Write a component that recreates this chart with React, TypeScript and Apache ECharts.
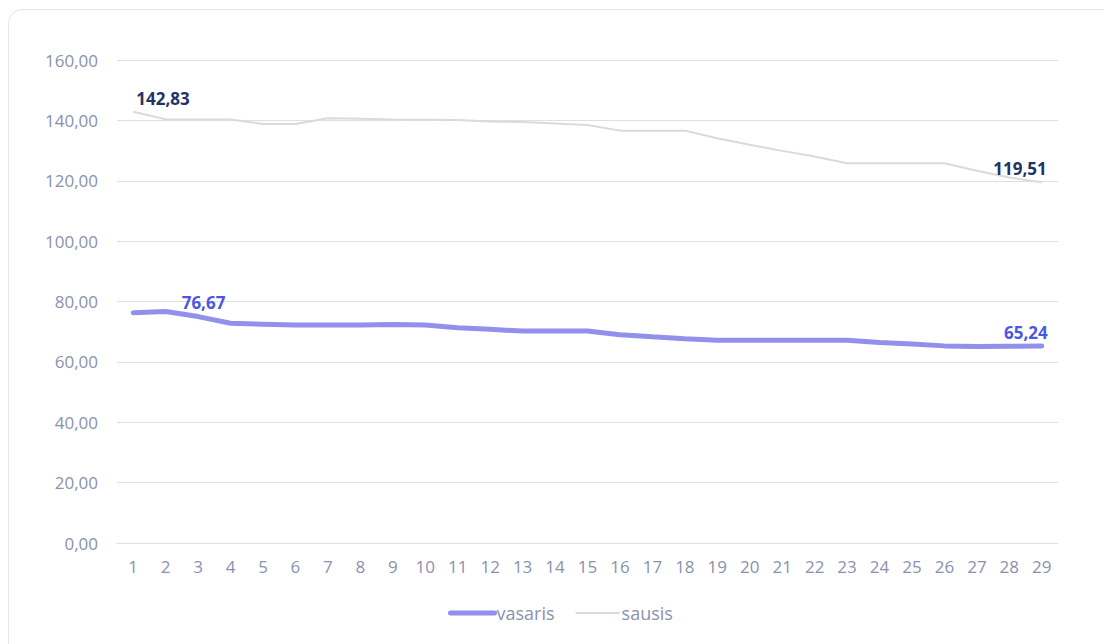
import React, { useEffect, useRef } from "react";
import * as echarts from "echarts";

const days = ["1","2","3","4","5","6","7","8","9","10","11","12","13","14","15","16","17","18","19","20","21","22","23","24","25","26","27","28","29"];
const vasaris = [76.3, 76.67, 75.0, 72.8, 72.5, 72.2, 72.2, 72.2, 72.4, 72.2, 71.3, 70.8, 70.2, 70.2, 70.2, 69.0, 68.3, 67.7, 67.2, 67.2, 67.2, 67.2, 67.2, 66.4, 65.9, 65.3, 65.1, 65.2, 65.24];
const sausis = [142.83, 140.4, 140.3, 140.3, 138.8, 138.8, 140.7, 140.5, 140.3, 140.2, 140.1, 139.6, 139.5, 139.0, 138.5, 136.6, 136.6, 136.6, 134.1, 131.9, 129.9, 128.0, 125.8, 125.8, 125.8, 125.8, 123.3, 121.1, 119.51];
const yTicks = { min: 0, max: 160, interval: 20 };

const fmt = (v: number) => v.toFixed(2).replace(".", ",");

export default function App() {
  const ref = useRef<HTMLDivElement>(null);
  useEffect(() => {
    if (!ref.current) return;
    const chart = echarts.init(ref.current, undefined, { renderer: "svg" });
    const font = "'Open Sans', 'Noto Sans', sans-serif";
    const labelBase = { show: true, position: "top", fontFamily: font, fontSize: 17, fontWeight: "bold", formatter: (p: any) => fmt(p.value) };
    const mark = { symbol: "circle", symbolSize: 0 };
    const vData = vasaris.map((v, i) => {
      if (i === 1) return { value: v, ...mark, label: { ...labelBase, color: "#4a57e3", align: "left", offset: [16, 4] } };
      if (i === vasaris.length - 1) return { value: v, ...mark, label: { ...labelBase, color: "#4a57e3", align: "right", offset: [6, 0] } };
      return { value: v };
    });
    const sData = sausis.map((v, i) => {
      if (i === 0) return { value: v, ...mark, label: { ...labelBase, color: "#1f3366", align: "left", offset: [3, 0] } };
      if (i === sausis.length - 1) return { value: v, ...mark, label: { ...labelBase, color: "#1f3366", align: "right", offset: [5, 0] } };
      return { value: v };
    });
    chart.setOption({
      animation: false,
      textStyle: { fontFamily: font },
      grid: { left: 117, right: 46, top: 60, bottom: 101, containLabel: false },
      legend: {
        top: 599,
        left: 443,
        itemWidth: 44,
        itemHeight: 20,
        itemGap: 20,
        itemStyle: { opacity: 0 },
        textStyle: { color: "#8a92ab", fontSize: 18, fontFamily: font, padding: [0, 0, 0, -3] },
        data: [
          { name: "vasaris", lineStyle: { width: 5, cap: "round", color: "#9191ec" } },
          { name: "sausis", lineStyle: { width: 2, color: "#dadada" } },
        ],
      },
      xAxis: {
        type: "category",
        data: days,
        boundaryGap: true,
        axisLine: { show: true, lineStyle: { color: "#e0e0e0" } },
        axisTick: { show: false },
        axisLabel: { color: "#8a92ab", fontSize: 17, margin: 15, fontFamily: font },
      },
      yAxis: {
        type: "value",
        min: yTicks.min,
        max: yTicks.max,
        interval: yTicks.interval,
        axisLine: { show: false },
        axisTick: { show: false },
        axisLabel: { color: "#8a92ab", fontSize: 17, margin: 19, fontFamily: font, formatter: (v: number) => fmt(v) },
        splitLine: { lineStyle: { color: "#e0e0e0" } },
      },
      series: [
        {
          name: "vasaris",
          type: "line",
          data: vData,
          symbol: "none",
          lineStyle: { color: "#9191ec", width: 5, cap: "round" },
          itemStyle: { color: "#9191ec" },
          z: 3,
        },
        {
          name: "sausis",
          type: "line",
          data: sData,
          symbol: "none",
          lineStyle: { color: "#dadada", width: 2 },
          itemStyle: { color: "#dadada" },
          z: 2,
        },
      ],
    });
    return () => chart.dispose();
  }, []);
  return (
    <div style={{ position: "fixed", left: 0, top: 0, width: 1104, height: 644, background: "#fff" }}>
      <div style={{ position: "absolute", left: 8, top: 9, width: 1120, height: 660, border: "1px solid #e6e6e6", borderRadius: 14, boxSizing: "border-box" }} />
      <div ref={ref} style={{ position: "absolute", left: 0, top: 0, width: 1104, height: 644 }} />
    </div>
  );
}
